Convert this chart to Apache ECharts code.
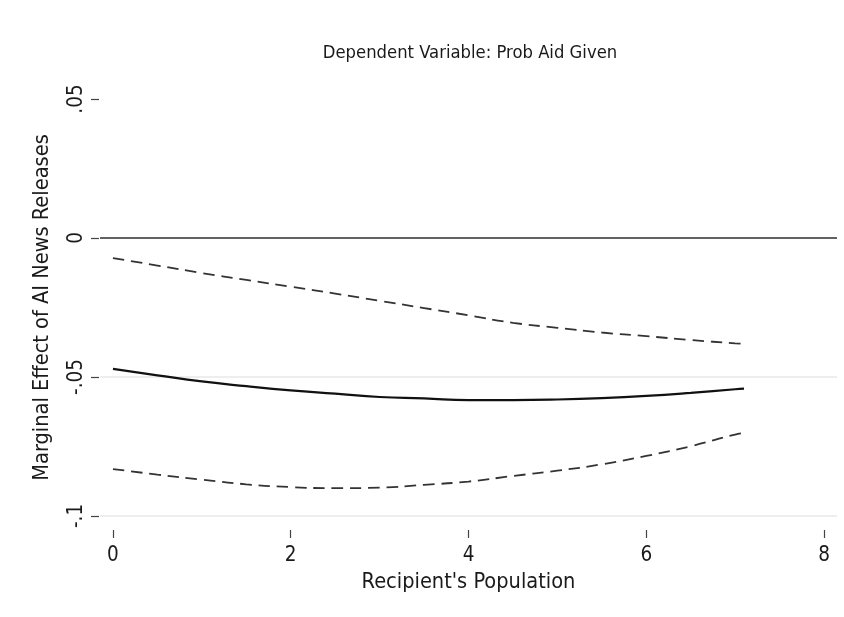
<!DOCTYPE html>
<html><head><meta charset="utf-8">
<script src="https://cdn.jsdelivr.net/npm/echarts@6/dist/echarts.min.js"></script>
<style>html,body{margin:0;padding:0;background:#fff}#c{width:844px;height:617px}</style>
</head><body><div id="c"></div>
<script>
const population = [0, 0.5, 1, 1.5, 2, 2.5, 3, 3.5, 4, 4.5, 5, 5.5, 6, 6.5, 7, 7.1];
const effect = [-0.0471, -0.0494, -0.0516, -0.0533, -0.0548, -0.0560, -0.0572, -0.0577, -0.0583, -0.0583, -0.0581, -0.0576, -0.0568, -0.0557, -0.0544, -0.0542];
const upperBound = [-0.0072, -0.0099, -0.0126, -0.0151, -0.0175, -0.0200, -0.0226, -0.0252, -0.0278, -0.0305, -0.0323, -0.0340, -0.0353, -0.0367, -0.0379, -0.0381];
const lowerBound = [-0.0831, -0.0851, -0.0869, -0.0886, -0.0896, -0.0900, -0.0898, -0.0888, -0.0876, -0.0856, -0.0837, -0.0814, -0.0784, -0.0749, -0.0707, -0.0701];
const xTickValues = [0, 2, 4, 6, 8];
const yTickValues = [-0.1, -0.05, 0, 0.05];
const yTickLabels = ['-.1', '-.05', '0', '.05'];
const titleText = 'Dependent Variable: Prob Aid Given';
const xTitle = "Recipient's Population";
const yTitle = 'Marginal Effect of AI News Releases';

const FONT = "'Liberation Sans Narrow', 'DejaVu Sans Condensed', 'Arial Narrow', sans-serif";
const pair = (ys) => population.map((x, i) => [x, ys[i]]);

const chart = echarts.init(document.getElementById('c'), null, {renderer: 'canvas'});
chart.setOption({
  backgroundColor: '#ffffff',
  animation: false,
  grid: {left: 100, right: 7, top: 99, bottom: 101, containLabel: false},
  graphic: [{
    type: 'text', x: 470, y: 53,
    style: {text: titleText, font: '18.3px ' + FONT, fill: '#1a1a1a', textAlign: 'center', textVerticalAlign: 'middle'}
  }],
  xAxis: {
    type: 'value', min: -0.146, max: 8.146, offset: 14,
    name: xTitle, nameLocation: 'middle', nameGap: 35,
    nameTextStyle: {fontFamily: FONT, fontSize: 21.6, color: '#1a1a1a'},
    axisLine: {show: false, onZero: false},
    axisTick: {show: true, customValues: xTickValues, length: 8, inside: false, lineStyle: {color: '#444', width: 1.2}},
    axisLabel: {customValues: xTickValues, fontFamily: FONT, fontSize: 20.5, color: '#1a1a1a', margin: 15},
    splitLine: {show: false}
  },
  yAxis: {
    type: 'value', min: -0.1, max: 0.05, interval: 0.05, offset: 1,
    name: yTitle, nameLocation: 'middle', nameGap: 46,
    nameTextStyle: {fontFamily: FONT, fontSize: 21.6, color: '#1a1a1a'},
    axisLine: {show: false, onZero: false},
    axisTick: {show: true, length: 8, lineStyle: {color: '#444', width: 1.2}},
    axisLabel: {
      rotate: 90, fontFamily: FONT, fontSize: 20.5, color: '#1a1a1a', margin: 12,
      formatter: (v) => { const i = yTickValues.findIndex(t => Math.abs(t - v) < 1e-9); return i >= 0 ? yTickLabels[i] : ''; }
    },
    splitLine: {show: true, showMaxLine: false, lineStyle: {color: '#e8e8e8', width: 1.5}}
  },
  series: [
    {
      type: 'line', data: pair(upperBound), symbol: 'none', smooth: true,
      lineStyle: {color: '#333', width: 1.8, type: [11.5, 6.8]},
      markLine: {silent: true, symbol: 'none', label: {show: false},
        lineStyle: {color: '#333', width: 1.6, type: 'solid'}, data: [{yAxis: 0}]}
    },
    {type: 'line', data: pair(effect), symbol: 'none', smooth: true, lineStyle: {color: '#111', width: 2.2}},
    {type: 'line', data: pair(lowerBound), symbol: 'none', smooth: true, lineStyle: {color: '#333', width: 1.8, type: [11.5, 6.8]}}
  ]
});
</script></body></html>
